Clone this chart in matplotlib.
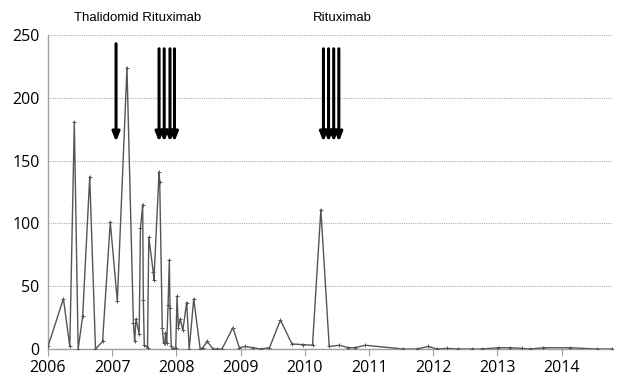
import matplotlib
matplotlib.use("Agg")
import matplotlib.pyplot as plt

dates = [2006.00, 2006.24, 2006.34, 2006.41, 2006.47, 2006.54, 2006.65, 2006.74,
         2006.85, 2006.97, 2007.08, 2007.23, 2007.33, 2007.35, 2007.37, 2007.42,
         2007.44, 2007.475, 2007.485, 2007.50, 2007.55, 2007.57, 2007.64, 2007.65,
         2007.73, 2007.74, 2007.78, 2007.80, 2007.82, 2007.83, 2007.85, 2007.87,
         2007.89, 2007.90, 2007.92, 2007.94, 2007.99, 2008.01, 2008.03, 2008.06,
         2008.10, 2008.16, 2008.20, 2008.27, 2008.37, 2008.41, 2008.48, 2008.57,
         2008.64, 2008.71, 2008.88, 2008.98, 2009.07, 2009.19, 2009.32, 2009.45,
         2009.62, 2009.80, 2009.97, 2010.12, 2010.25, 2010.38, 2010.54, 2010.68,
         2010.78, 2010.94, 2011.53, 2011.75, 2011.92, 2012.06, 2012.21, 2012.39,
         2012.60, 2012.76, 2013.01, 2013.20, 2013.38, 2013.51, 2013.71, 2014.13,
         2014.55, 2014.79]
values = [2, 40, 2, 181, 0, 26, 137, 0,
          6, 101, 38, 224, 21, 6, 24, 12,
          96, 115, 39, 3, 1, 89, 61, 55,
          141, 133, 17, 5, 5, 13, 5, 35,
          71, 33, 2, 0, 1, 42, 17, 24,
          15, 37, 0, 40, 0, 1, 6, 0,
          0, 0, 17, 1, 2, 1, 0, 1,
          23, 4, 3.5, 3, 111, 2, 3, 1,
          1, 3, 0, 0, 2, 0, 0.5, 0,
          0, 0, 1, 1, 0.5, 0, 1, 1,
          0, 0]

# treatment arrows
thal_dates = [2007.06]
ritux1_dates = [2007.73, 2007.81, 2007.90, 2007.97]
ritux2_dates = [2010.29, 2010.37, 2010.45, 2010.53]

years = list(range(2006, 2015))
yticks = [0, 50, 100, 150, 200, 250]

fig = plt.figure(figsize=(6.2, 3.87), dpi=100)
ax = fig.add_axes([0.0774, 0.0982, 0.9113, 0.8114])

ax.plot(dates, values, color="#555555", lw=1.0, marker="+", ms=3, mew=0.7, zorder=3)

ax.set_xlim(2006, 2014.8)
ax.set_ylim(0, 250)
ax.set_xticks(years)
ax.set_xticklabels([str(y) for y in years])
ax.set_yticks(yticks)
ax.yaxis.grid(True, linestyle=(0, (1, 1)), color="#b0b0b0", lw=0.8)
ax.set_axisbelow(True)

for s in ["top", "right"]:
    ax.spines[s].set_visible(False)
for s in ["left", "bottom"]:
    ax.spines[s].set_color("#a0a0a0")
    ax.spines[s].set_linewidth(1.0)

ax.tick_params(axis="x", direction="out", length=5, color="#a0a0a0", pad=3)
ax.tick_params(axis="y", length=0, pad=6)
for lab in ax.get_xticklabels() + ax.get_yticklabels():
    lab.set_fontfamily("Open Sans")
    lab.set_fontsize(11.5)
    lab.set_color("black")

# arrows
def draw_arrow(x, top):
    ax.annotate("", xy=(x, 165), xytext=(x, top),
                arrowprops=dict(arrowstyle="-|>,head_width=0.22,head_length=0.55",
                                lw=2.2, color="black", shrinkA=0, shrinkB=0),
                annotation_clip=False)

for x in thal_dates:
    draw_arrow(x, 243)
for x in ritux1_dates + ritux2_dates:
    draw_arrow(x, 239)

ax.text(2007.39, 263.5, "Thalidomid Rituximab", ha="center", va="center",
        fontsize=9.5, family="Liberation Sans", clip_on=False)
ax.text(2010.58, 263.5, "Rituximab", ha="center", va="center",
        fontsize=9.5, family="Liberation Sans", clip_on=False)

fig.savefig("out.png", dpi=100)
